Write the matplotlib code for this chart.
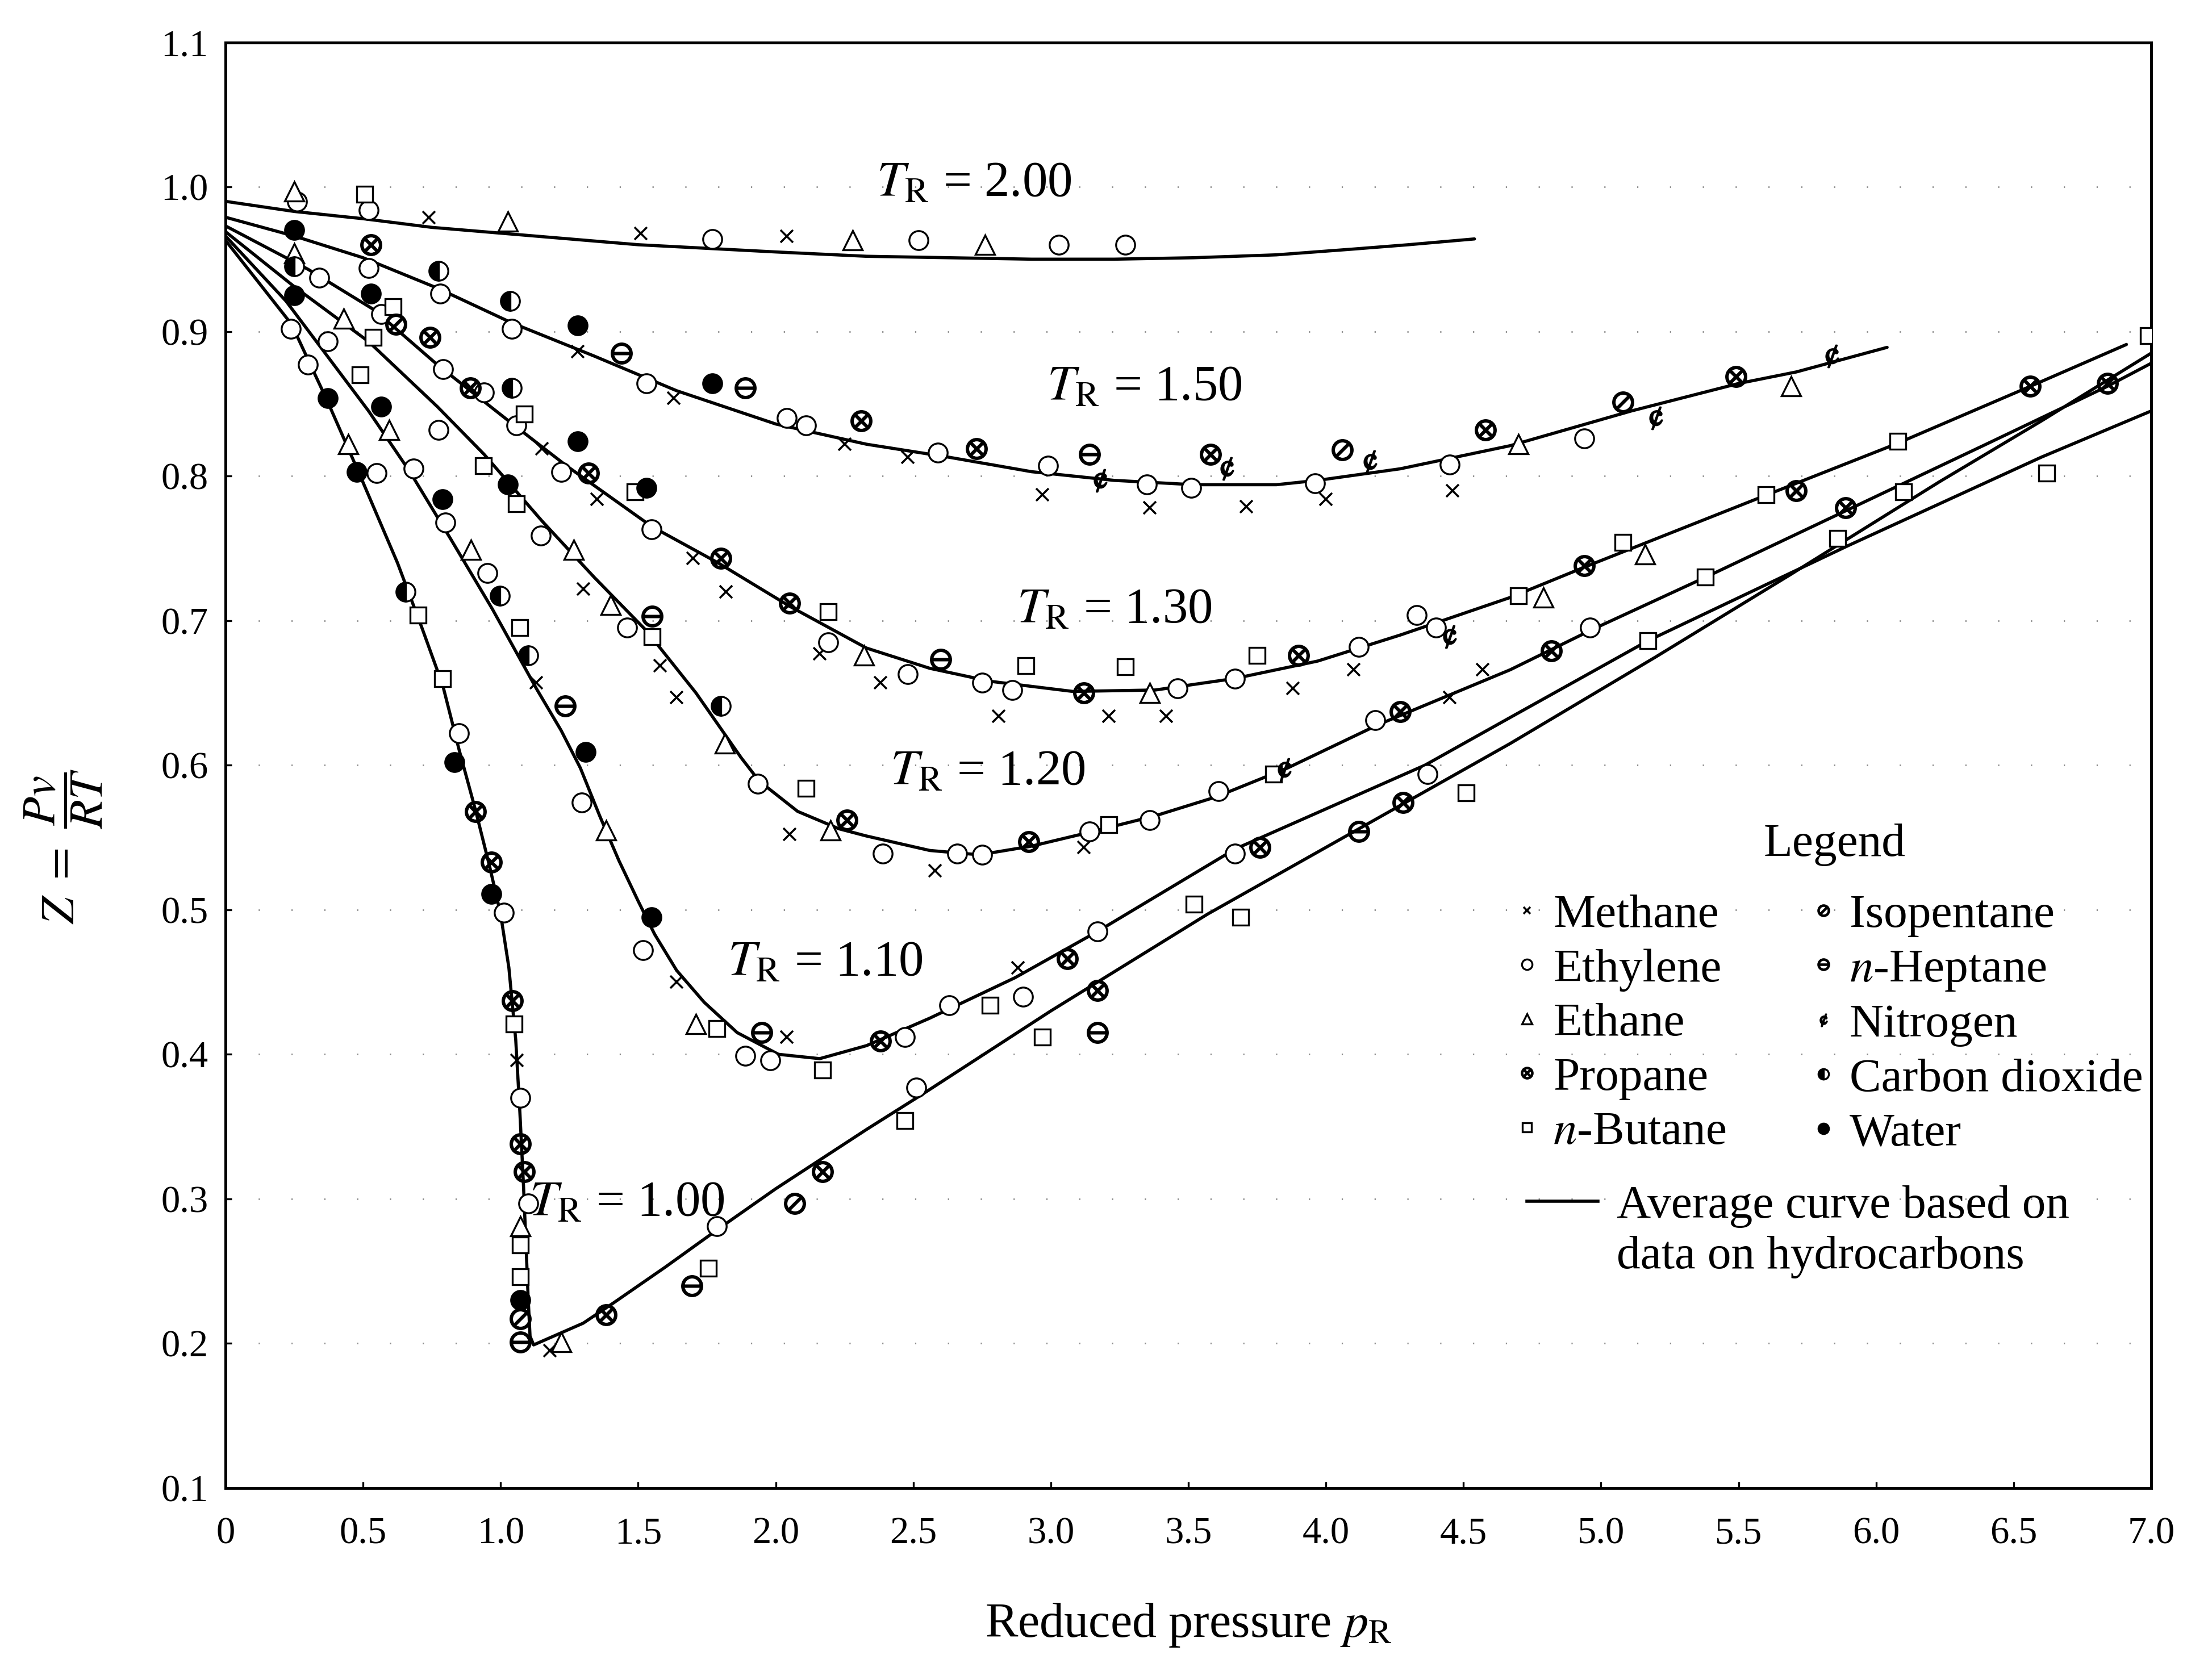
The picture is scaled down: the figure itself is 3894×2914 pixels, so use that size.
import matplotlib
matplotlib.use('Agg')
import matplotlib.pyplot as plt
from matplotlib.lines import Line2D

plt.rcParams['font.family'] = ['Liberation Serif', 'DejaVu Serif']
plt.rcParams['mathtext.fontset'] = 'stix'

# ---- average curves: reduced pressure vs Z ----
p_200 = [0, 0.25, 0.5, 0.75, 1.0, 1.5, 2.0, 2.33, 2.63, 2.93, 3.23, 3.52, 3.82, 4.1, 4.3, 4.54]
z_200 = [0.990, 0.983, 0.978, 0.972, 0.968, 0.960, 0.955, 0.952, 0.951, 0.950, 0.950, 0.951, 0.953, 0.957, 0.960, 0.964]

p_150 = [0, 0.25, 0.5, 0.77, 1.04, 1.34, 1.64, 2.0, 2.33, 2.63, 2.93, 3.23, 3.52, 3.82, 3.97, 4.27, 4.67, 5.11, 5.5, 5.71, 6.04]
z_150 = [0.979, 0.966, 0.951, 0.930, 0.906, 0.883, 0.859, 0.836, 0.822, 0.813, 0.803, 0.797, 0.794, 0.794, 0.797, 0.805, 0.821, 0.845, 0.864, 0.872, 0.889]

p_130 = [0, 0.3, 0.54, 0.77, 1.03, 1.24, 1.55, 1.79, 2.05, 2.33, 2.56, 2.78, 3.08, 3.38, 3.67, 3.97, 4.27, 4.67, 4.94, 5.59, 6.07, 6.56, 6.91]
z_130 = [0.973, 0.943, 0.915, 0.877, 0.838, 0.807, 0.765, 0.740, 0.710, 0.681, 0.667, 0.658, 0.651, 0.652, 0.660, 0.672, 0.690, 0.716, 0.737, 0.786, 0.822, 0.862, 0.891]

p_120 = [0, 0.25, 0.52, 0.77, 0.94, 1.15, 1.34, 1.53, 1.71, 1.875, 1.94, 2.08, 2.23, 2.33, 2.56, 2.74, 2.93, 3.15, 3.38, 3.6, 3.86,
         4.19, 4.67, 4.97, 5.38, 5.89, 6.4, 6.84, 7.0]
z_120 = [0.969, 0.931, 0.893, 0.848, 0.815, 0.769, 0.730, 0.693, 0.650, 0.605, 0.589, 0.568, 0.556, 0.551, 0.541, 0.538, 0.544,
         0.554, 0.565, 0.578, 0.598, 0.628, 0.666, 0.694, 0.730, 0.776, 0.822, 0.862, 0.878]

p_110 = [0, 0.22, 0.37, 0.52, 0.67, 0.82, 0.97, 1.13, 1.22, 1.29, 1.36, 1.43, 1.5, 1.56, 1.64, 1.74, 1.86, 2.01, 2.16, 2.33, 2.56,
         2.87, 3.17, 3.67, 4.36, 4.67, 5.17, 5.9, 6.6, 7.0]
z_110 = [0.966, 0.921, 0.883, 0.845, 0.803, 0.756, 0.708, 0.653, 0.624, 0.598, 0.565, 0.534, 0.506, 0.483, 0.458, 0.436, 0.415,
         0.400, 0.397, 0.406, 0.425, 0.453, 0.485, 0.542, 0.600, 0.633, 0.686, 0.752, 0.813, 0.845]

p_100 = [0, 0.24, 0.37, 0.49, 0.625, 0.714, 0.79, 0.85, 0.91, 0.96, 1.0, 1.03, 1.055, 1.07, 1.083, 1.093, 1.10, 1.107, 1.12,
         1.3, 1.41, 1.6, 1.79, 2.0, 2.33, 2.53, 3.0, 3.57, 4.12, 4.67, 5.2, 5.69, 6.23, 6.6, 7.0]
z_100 = [0.963, 0.905, 0.852, 0.800, 0.740, 0.695, 0.655, 0.610, 0.568, 0.530, 0.497, 0.460, 0.410, 0.360, 0.310, 0.265, 0.232,
         0.205, 0.199, 0.214, 0.228, 0.253, 0.279, 0.307, 0.348, 0.372, 0.430, 0.497, 0.556, 0.615, 0.675, 0.732, 0.796, 0.838, 0.885]

curve_labels = [r'$T_{\mathrm{R}}$ = 2.00', r'$T_{\mathrm{R}}$ = 1.50', r'$T_{\mathrm{R}}$ = 1.30',
                r'$T_{\mathrm{R}}$ = 1.20', r'$T_{\mathrm{R}}$ = 1.10', r'$T_{\mathrm{R}}$ = 1.00']

# ---- experimental points ----
methane_p = [0.74, 1.51, 2.04, 1.28, 1.63, 2.25, 2.48, 2.97, 3.36, 3.71, 4.00, 4.46, 1.15, 1.35, 1.70, 1.82, 2.16, 2.38, 2.81,
             3.21, 3.42, 3.88, 4.10, 4.57, 1.30, 1.58, 1.64, 2.05, 2.58, 3.12, 4.45, 1.13, 1.64, 2.04, 2.88, 1.06, 1.18]
methane_z = [0.979, 0.968, 0.966, 0.886, 0.854, 0.822, 0.813, 0.787, 0.778, 0.779, 0.784, 0.790, 0.819, 0.784, 0.743, 0.720,
             0.677, 0.657, 0.634, 0.634, 0.634, 0.653, 0.666, 0.666, 0.722, 0.669, 0.647, 0.552, 0.527, 0.543, 0.647, 0.657,
             0.450, 0.412, 0.460, 0.396, 0.195]

ethylene_p = [0.26, 0.52, 1.77, 2.52, 3.03, 3.27, 0.52, 0.78, 1.04, 1.53, 2.04, 2.11, 2.59, 2.99, 3.35, 3.51, 3.96, 4.45, 4.94,
              0.34, 0.565, 0.79, 0.94, 1.057, 1.22, 1.548, 2.19, 2.48, 2.75, 2.86, 3.46, 3.67, 4.12, 4.33, 4.40, 0.774, 1.146,
              1.46, 1.935, 2.39, 2.66, 2.75, 3.14, 3.36, 3.61, 4.18, 4.96, 0.372, 0.684, 0.80, 0.952, 1.295, 1.518, 1.89, 1.98,
              2.47, 2.63, 2.90, 3.17, 3.67, 4.37, 0.238, 0.30, 0.55, 0.848, 1.012, 1.071, 1.10, 1.786, 2.51]
ethylene_z = [0.990, 0.984, 0.964, 0.963, 0.960, 0.960, 0.944, 0.926, 0.902, 0.864, 0.840, 0.835, 0.816, 0.807, 0.794, 0.792,
              0.795, 0.808, 0.826, 0.937, 0.912, 0.874, 0.858, 0.835, 0.803, 0.763, 0.685, 0.663, 0.657, 0.652, 0.653, 0.660,
              0.682, 0.704, 0.695, 0.832, 0.759, 0.695, 0.587, 0.539, 0.539, 0.538, 0.554, 0.562, 0.582, 0.631, 0.695, 0.893,
              0.805, 0.768, 0.733, 0.574, 0.472, 0.399, 0.396, 0.412, 0.434, 0.440, 0.485, 0.539, 0.594, 0.902, 0.877, 0.802,
              0.622, 0.498, 0.370, 0.297, 0.281, 0.377]

ethane_p = [0.25, 1.027, 2.28, 2.76, 4.70, 5.69, 0.43, 2.32, 3.36, 4.79, 5.16, 1.265, 1.40, 1.815, 2.20, 0.595, 0.893, 1.384,
            1.71, 0.446, 1.071, 1.22, 0.25]
ethane_z = [0.997, 0.976, 0.963, 0.960, 0.822, 0.862, 0.909, 0.676, 0.650, 0.716, 0.746, 0.749, 0.711, 0.615, 0.555, 0.832,
            0.749, 0.555, 0.421, 0.822, 0.281, 0.201, 0.954]

propane_p = [0.528, 2.31, 2.73, 3.58, 4.58, 5.49, 0.744, 0.89, 1.32, 1.80, 2.05, 3.12, 3.90, 4.94, 5.71, 6.56, 2.26, 2.92, 4.27,
             4.82, 5.89, 6.84, 2.38, 3.06, 3.76, 4.28, 0.908, 0.967, 1.071, 1.086, 1.384, 2.17, 3.17, 1.042]
propane_z = [0.960, 0.838, 0.819, 0.815, 0.832, 0.869, 0.896, 0.861, 0.802, 0.743, 0.712, 0.650, 0.676, 0.738, 0.790, 0.862,
             0.562, 0.547, 0.637, 0.679, 0.778, 0.864, 0.409, 0.466, 0.543, 0.574, 0.568, 0.533, 0.338, 0.319, 0.220, 0.319,
             0.444, 0.437]

butane_p = [0.506, 0.61, 0.536, 1.086, 1.488, 2.19, 2.91, 3.27, 3.75, 4.70, 5.08, 5.60, 6.08, 6.99, 0.9375, 1.057, 1.55, 2.11,
            3.21, 3.81, 5.38, 6.10, 0.49, 1.07, 1.786, 2.17, 2.78, 3.52, 3.69, 4.51, 5.17, 5.86, 6.62, 0.70, 0.789, 1.049,
            1.071, 1.071, 1.756, 2.47, 2.97]
butane_z = [0.995, 0.917, 0.896, 0.843, 0.789, 0.706, 0.669, 0.668, 0.676, 0.717, 0.754, 0.787, 0.824, 0.897, 0.807, 0.781,
            0.689, 0.584, 0.559, 0.594, 0.730, 0.789, 0.870, 0.695, 0.418, 0.389, 0.434, 0.504, 0.495, 0.581, 0.686, 0.757,
            0.802, 0.704, 0.660, 0.421, 0.268, 0.246, 0.252, 0.354, 0.412]

isopentane_p = [4.06, 5.08, 1.071, 2.07, 0.62]
isopentane_z = [0.818, 0.851, 0.217, 0.297, 0.905]

heptane_p = [1.89, 3.14, 2.60, 1.55, 1.235, 1.95, 4.12, 1.071, 1.696, 3.17, 1.44]
heptane_z = [0.861, 0.815, 0.673, 0.703, 0.641, 0.415, 0.554, 0.201, 0.240, 0.415, 0.885]

nitrogen_p = [3.18, 3.64, 4.16, 5.20, 5.84, 4.45, 3.85]
nitrogen_z = [0.797, 0.805, 0.810, 0.840, 0.883, 0.689, 0.597]

co2_p = [0.774, 1.034, 1.04, 1.80, 0.997, 1.10, 0.655, 0.25]
co2_z = [0.942, 0.921, 0.861, 0.641, 0.717, 0.676, 0.720, 0.945]

water_p = [1.28, 1.77, 0.528, 1.28, 1.53, 1.027, 0.565, 0.789, 1.31, 1.548, 0.372, 0.476, 0.833, 0.967, 1.071, 0.25, 0.25]
water_z = [0.904, 0.864, 0.926, 0.824, 0.792, 0.794, 0.848, 0.784, 0.609, 0.495, 0.854, 0.803, 0.602, 0.511, 0.230, 0.970, 0.925]

x_ticks = [0, 0.5, 1.0, 1.5, 2.0, 2.5, 3.0, 3.5, 4.0, 4.5, 5.0, 5.5, 6.0, 6.5, 7.0]
x_tick_labels = ['0', '0.5', '1.0', '1.5', '2.0', '2.5', '3.0', '3.5', '4.0', '4.5', '5.0', '5.5', '6.0', '6.5', '7.0']
y_ticks = [0.1, 0.2, 0.3, 0.4, 0.5, 0.6, 0.7, 0.8, 0.9, 1.0, 1.1]
y_tick_labels = ['0.1', '0.2', '0.3', '0.4', '0.5', '0.6', '0.7', '0.8', '0.9', '1.0', '1.1']

fig = plt.figure(figsize=(19.47, 14.57), dpi=200)
ax = fig.add_axes([0.10195, 0.10089, 0.87057, 0.87354])

curves = [(p_200, z_200), (p_150, z_150), (p_130, z_130), (p_120, z_120), (p_110, z_110), (p_100, z_100)]
for p, z in curves:
    ax.plot(p, z, color='black', lw=2.0, zorder=2, solid_joinstyle='round', solid_capstyle='round')

# label positions (centre of the text, data coords)
label_pos = [(2.72, 1.002), (3.34, 0.861), (3.23, 0.707), (2.77, 0.595), (2.18, 0.463), (1.46, 0.297)]
for txt, (lx, ly) in zip(curve_labels, label_pos):
    ax.text(lx, ly, txt, fontsize=32, ha='center', va='center', zorder=4)

ms = 12
mk = dict(linestyle='none', zorder=3)
h_methane, = ax.plot(methane_p, methane_z, marker='x', ms=8, mew=1.3, color='black', label='Methane', **mk)
h_ethylene, = ax.plot(ethylene_p, ethylene_z, marker='o', ms=ms, mew=1.2, mfc='white', mec='black', label='Ethylene', **mk)
h_ethane, = ax.plot(ethane_p, ethane_z, marker='^', ms=ms, mew=1.2, mfc='white', mec='black', label='Ethane', **mk)
h_propane, = ax.plot(propane_p, propane_z, marker=r'$\otimes$', ms=13, color='black', label='Propane', **mk)
h_butane, = ax.plot(butane_p, butane_z, marker='s', ms=10, mew=1.2, mfc='white', mec='black', label=r'$n$-Butane', **mk)
h_isopentane, = ax.plot(isopentane_p, isopentane_z, marker=r'$\oslash$', ms=13, color='black', label='Isopentane', **mk)
h_heptane, = ax.plot(heptane_p, heptane_z, marker=r'$\ominus$', ms=13, color='black', label=r'$n$-Heptane', **mk)
h_nitrogen, = ax.plot(nitrogen_p, nitrogen_z, marker='$\u00a2$', ms=14, color='black', label='Nitrogen', **mk)
h_co2, = ax.plot(co2_p, co2_z, marker='o', ms=ms, mew=1.2, fillstyle='left', mfc='black', mfcalt='white', mec='black',
                 label='Carbon dioxide', **mk)
h_water, = ax.plot(water_p, water_z, marker='o', ms=ms, mew=1.2, color='black', label='Water', **mk)

handles = [h_methane, h_ethylene, h_ethane, h_propane, h_butane,
           h_isopentane, h_heptane, h_nitrogen, h_co2, h_water]
leg = ax.legend(handles=handles, ncol=2, fontsize=30, frameon=False,
                loc='upper left', bbox_to_anchor=(4.68, 0.511), bbox_transform=ax.transData,
                markerscale=0.55, handlelength=0.6, handletextpad=0.25, columnspacing=1.75,
                labelspacing=0.23, borderpad=0, borderaxespad=0)
ax.add_artist(leg)
ax.text(5.85, 0.545, 'Legend', fontsize=30, ha='center', va='center')

avg_handles = [Line2D([], [], color='black', lw=2.0), Line2D([], [], linestyle='none')]
ax.legend(handles=avg_handles, labels=['Average curve based on', 'data on hydrocarbons'], fontsize=30, frameon=False,
          loc='upper left', bbox_to_anchor=(4.73, 0.310), bbox_transform=ax.transData,
          handlelength=1.5, handletextpad=0.4, labelspacing=0.15, borderpad=0, borderaxespad=0)

ax.set_xlim(0, 7.0)
ax.set_ylim(0.1, 1.1)
ax.set_xticks(x_ticks)
ax.set_xticklabels(x_tick_labels)
ax.set_yticks(y_ticks)
ax.set_yticklabels(y_tick_labels)
ax.tick_params(axis='both', direction='in', length=4, width=1.2, labelsize=24)
ax.tick_params(axis='x', pad=18)
ax.tick_params(axis='y', pad=11)
ax.grid(axis='y', linestyle=(0, (0.8, 20)), linewidth=1.0, color='0.55')
for s in ax.spines.values():
    s.set_linewidth(1.8)

ax.set_xlabel(r'Reduced pressure $p_{\mathrm{R}}$', fontsize=31)
ax.xaxis.set_label_coords(0.5, -0.095)
ax.xaxis.label.set_va('center')
ax.set_ylabel(r'$Z\ =\ \dfrac{Pv}{RT}$', fontsize=30)
ax.yaxis.set_label_coords(-0.084, 0.444)
ax.yaxis.label.set_va('center')

fig.savefig('out.png', dpi=200)
